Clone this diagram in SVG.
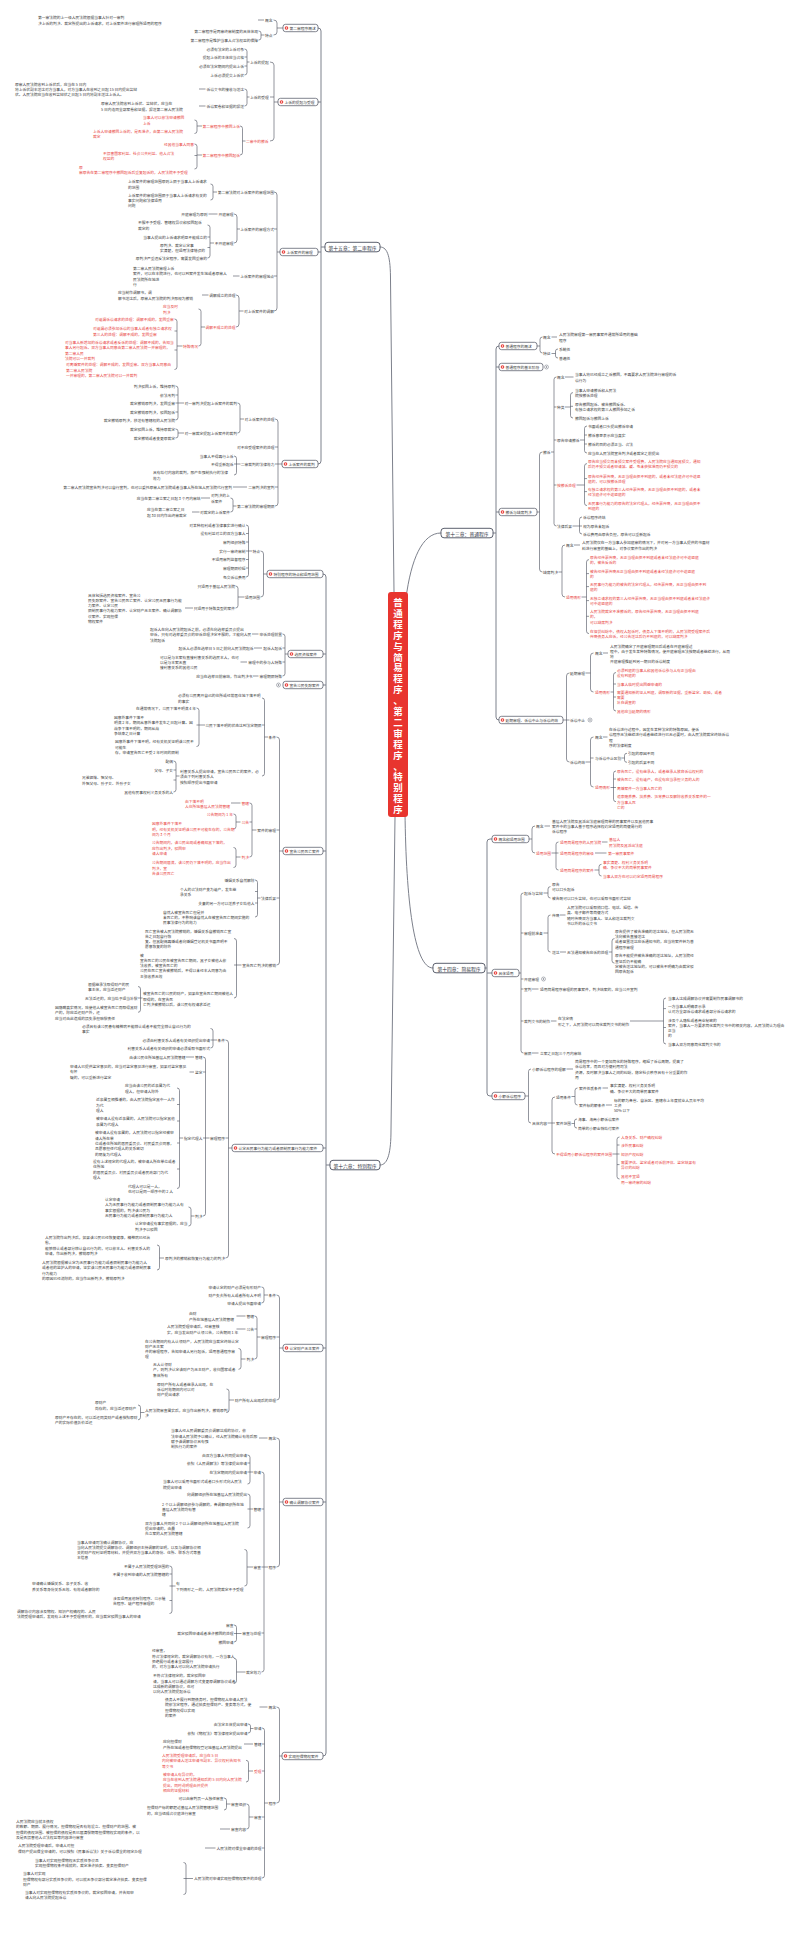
<svg xmlns="http://www.w3.org/2000/svg" width="800" height="1954" viewBox="0 0 800 1954">
<style>
text{font-family:"Noto Sans CJK SC","Noto Sans CJK JP",sans-serif;font-size:3.75px;fill:#3b3b3b;dominant-baseline:central}
.e{text-anchor:end}
.r{fill:#e8413c}
.ch{font-size:4.8px;fill:#2f3340;text-anchor:middle}
.tt{font-size:9.5px;fill:#fff;text-anchor:middle;font-weight:bold}
.c{fill:none;stroke:#4a4f5d;stroke-width:0.6}
.tr{fill:none;stroke:#7d818c;stroke-width:1}
.bx{fill:#fff;stroke:#4a4f5d;stroke-width:0.7}
.cb{fill:#fff;stroke:#4a4f5d;stroke-width:0.9}
.ic{fill:#e8413c}
.iw{fill:#fff}
.col{fill:#fff;stroke:#6b6f7a;stroke-width:0.5}
.cd{fill:#6b6f7a}
</style>
<rect width="800" height="1954" fill="#fff"/>
<g id="connectors">
<path class="tr" d="M380,247 C388,247 390.5,258 390.5,280 L394,592"/>
<path class="tr" d="M380,1165 C388,1165 391,1152 391,1130 L395,817"/>
<path class="tr" d="M406,598 C411,560 422,533 441,533"/>
<path class="tr" d="M405,812 C406,900 414,968 433,968"/>
<path class="tr" d="M318,28 Q321,28 321,31 V461 Q321,464 318,464 M318,102 H321 M318,252 H321 M321,247 H325"/>
<path class="tr" d="M323,574 Q326,574 326,577 V1753 Q326,1756 323,1756 M323,654 H326 M323,685 H326 M323,851 H326 M323,1148 H326 M323,1348 H326 M323,1502 H326 M326,1165 H330"/>
<path class="tr" d="M499,346 Q496,346 496,349 V717 Q496,720 499,720 M496,367 H499 M496,512 H499 M493,533 H496"/>
<path class="tr" d="M492,839 H490 Q487,839 487,842 V1093 Q487,1096 490,1096 H492 M487,973 H492 M485,968 H487"/>
<path class="c" d="M273.5,20 Q277,20 277,23 V32 Q277,35 273.5,35 M277,28 H283 M258,20 H264 M258.5,31 Q261,31 261,33 V38 Q261,40 258.5,40 M261,35 H264.5"/>
<path class="c" d="M270,62 Q274,62 274,65 V138 Q274,141 270,141 M270,97 H274 M274,102 H278"/>
<path class="c" d="M244.5,49 Q247,49 247,51.5 V72.5 Q247,75 244.5,75 M244.5,57 H247 M244.5,66 H247 M247,62 H249.5"/>
<path class="c" d="M244.5,89 Q247,89 247,91.5 V103.5 Q247,106 244.5,106 M247,97 H249.5 M199,89 H205.5 M199,106 H205.5"/>
<path class="c" d="M240,126 Q242.5,126 242.5,128.5 V152.5 Q242.5,155 240,155 M242.5,141 H245.5"/>
<path class="c" d="M194.5,120 Q197,120 197,122.5 V131 Q197,133.5 194.5,133.5 M197,126 H202 M194.5,144 Q197,144 197,146.5 V166.5 Q197,169 194.5,169 M194.5,155.5 H197 M197,155 H202"/>
<path class="c" d="M274,192 Q277,192 277,195 V308 Q277,311 274,311 M274,229 H277 M274,276 H277 M277,252 H280"/>
<path class="c" d="M210.5,184 Q213,184 213,186.5 V197.5 Q213,200 210.5,200 M213,192 H217"/>
<path class="c" d="M234,214 Q237,214 237,217 V240 Q237,243 234,243 M237,229 H240 M208.5,214 H217.5"/>
<path class="c" d="M207.5,225 Q210,225 210,227.5 V255.5 Q210,258 207.5,258 M207.5,237 H210 M207.5,247.5 H210 M210,243 H214"/>
<path class="c" d="M233,276 H239.5 M236,295 Q239,295 239,298 V324 Q239,327 236,327 M239,311 H243.5 M202,295 H208.5"/>
<path class="c" d="M198.5,309 Q201,309 201,311.5 V343.5 Q201,346 198.5,346 M201,327 H205"/>
<path class="c" d="M174.5,319 Q177,319 177,321.5 V367 Q177,369.5 174.5,369.5 M174.5,331 H177 M174.5,350 H177 M177,346 H182.5"/>
<path class="c" d="M275,419 Q278,419 278,422 V503 Q278,506 275,506 M275,447 H278 M275,464 H282 M275,487 H278"/>
<path class="c" d="M237.5,403 Q240,403 240,405.5 V430.5 Q240,433 237.5,433 M240,419 H244"/>
<path class="c" d="M175.5,386 Q178,386 178,388.5 V417.5 Q178,420 175.5,420 M175.5,395 H178 M175.5,403 H178 M175.5,412 H178 M178,403 H184"/>
<path class="c" d="M175.5,429 Q178,429 178,431 V436 Q178,438 175.5,438 M178,433 H184"/>
<path class="c" d="M234,456 Q236.5,456 236.5,458.5 V472.5 Q236.5,475 234,475 M234,464 H240.5 M233,487 H247"/>
<path class="c" d="M230.5,498 Q233,498 233,500.5 V509.5 Q233,512 230.5,512 M233,506 H236.5 M201,498 H210 M192,512 H199.5"/>
<path class="c" d="M260.5,551 Q263.5,551 263.5,554 V594 Q263.5,597 260.5,597 M263.5,574 H267"/>
<path class="c" d="M246,525 Q248.5,525 248.5,527.5 V574.5 Q248.5,577 246,577 M246,533.5 H248.5 M246,542 H248.5 M246,551 H252 M246,559.5 H248.5 M246,568 H248.5"/>
<path class="c" d="M235.5,586 Q238,586 238,588.5 V605.5 Q238,608 235.5,608 M238,597 H244.5 M185,608 H193"/>
<path class="c" d="M282.5,634 Q285,634 285,636.5 V673.5 Q285,676 282.5,676 M282.5,648 H285 M282.5,662 H285 M285,654 H288 M252,634 H258.5 M254,648 H262 M240.5,662 H247 M253,676 H258.5"/>
<path class="c" d="M276.5,737 Q279.5,737 279.5,740 V962 Q279.5,965 276.5,965 M276.5,830 H279.5 M276.5,898 H279.5 M279.5,851 H283"/>
<path class="c" d="M262,698 Q264.5,698 264.5,700.5 V773.5 Q264.5,776 262,776 M262,725 H264.5 M264.5,737 H268"/>
<path class="c" d="M196.5,708 Q199,708 199,710.5 V744 Q199,746.5 196.5,746.5 M196.5,725 H205"/>
<path class="c" d="M173.5,761 Q176,761 176,763.5 V789.5 Q176,792 173.5,792 M173.5,770 H176 M173.5,780 H176 M176,776 H179.5"/>
<path class="c" d="M249.5,803 Q252,803 252,805.5 V854.5 Q252,857 249.5,857 M249.5,822 H252 M252,830 H256.5 M231,803 H240.5"/>
<path class="c" d="M233.5,814 Q236,814 236,816.5 V826.5 Q236,829 233.5,829 M236,822 H240.5 M233.5,847.5 Q236,847.5 236,850 V865 Q236,867.5 233.5,867.5 M236,857 H240.5"/>
<path class="c" d="M255,880 Q257.5,880 257.5,882.5 V914.5 Q257.5,917 255,917 M255,891.5 H257.5 M255,903 H257.5 M257.5,898 H260.5"/>
<path class="c" d="M234,938.5 Q236.5,938.5 236.5,941 V995.5 Q236.5,998 234,998 M234,965 H241.5"/>
<path class="c" d="M138,986.5 Q140.5,986.5 140.5,989 V1009.8 Q140.5,1012.3 138,1012.3 M138,998 H142.5"/>
<path class="c" d="M225.5,1040 Q228.5,1040 228.5,1043 V1255 Q228.5,1258 225.5,1258 M225.5,1138 H228.5 M228.5,1148 H232"/>
<path class="c" d="M210.5,1028.5 Q213,1028.5 213,1031 V1045.5 Q213,1048 210.5,1048 M210.5,1040 H217"/>
<path class="c" d="M203,1057 Q205.5,1057 205.5,1059.5 V1213.5 Q205.5,1216 203,1216 M203,1072 H205.5 M203,1138 H209.5 M186,1057 H194 M189.5,1072 H194"/>
<path class="c" d="M177,1088 Q179.5,1088 179.5,1090.5 V1186 Q179.5,1188.5 177,1188.5 M177,1104.5 H179.5 M177,1121 H179.5 M177,1143 H179.5 M177,1169 H179.5 M179.5,1138 H183"/>
<path class="c" d="M188.5,1207 Q191,1207 191,1209.5 V1223.5 Q191,1226 188.5,1226 M191,1216 H194.5"/>
<path class="c" d="M157,1245 Q159.5,1245 159.5,1247.5 V1267.5 Q159.5,1270 157,1270 M159.5,1258 H164"/>
<path class="c" d="M276.5,1295 Q279.5,1295 279.5,1298 V1397 Q279.5,1400 276.5,1400 M276.5,1337 H279.5 M279.5,1348 H283"/>
<path class="c" d="M261.5,1287 Q264,1287 264,1289.5 V1300.5 Q264,1303 261.5,1303 M264,1295 H268"/>
<path class="c" d="M254.5,1316 Q257,1316 257,1318.5 V1356.5 Q257,1359 254.5,1359 M254.5,1329 H257 M257,1337 H260.5 M236.5,1316 H245.5 M236.5,1329 H245.5"/>
<path class="c" d="M238.5,1348.5 Q241,1348.5 241,1351 V1366.8 Q241,1369.3 238.5,1369.3 M241,1359 H245.5"/>
<path class="c" d="M226.5,1389 Q229,1389 229,1391.5 V1410 Q229,1412.5 226.5,1412.5 M229,1400 H234"/>
<path class="c" d="M138,1405 Q140.5,1405 140.5,1407.5 V1417.3 Q140.5,1419.8 138,1419.8 M140.5,1412.5 H144.5"/>
<path class="c" d="M276.5,1438 Q279.5,1438 279.5,1441 V1564 Q279.5,1567 276.5,1567 M279.5,1502 H283 M259,1438 H267.5"/>
<path class="c" d="M261.5,1472 Q264,1472 264,1474.5 V1669.5 Q264,1672 261.5,1672 M261.5,1509 H264 M261.5,1567 H268 M261.5,1633 H264"/>
<path class="c" d="M247.5,1455 Q250,1455 250,1457.5 V1481.5 Q250,1484 247.5,1484 M247.5,1463 H250 M247.5,1472 H253"/>
<path class="c" d="M247.5,1494 Q250,1494 250,1496.5 V1525.5 Q250,1528 247.5,1528 M247.5,1509 H253"/>
<path class="c" d="M244.5,1549.5 Q247,1549.5 247,1552 V1583.5 Q247,1586 244.5,1586 M247,1567 H253"/>
<path class="c" d="M169.5,1566 Q172,1566 172,1568.5 V1611 Q172,1613.5 169.5,1613.5 M169.5,1574 H172 M169.5,1586 H175.5 M169.5,1600.5 H172"/>
<path class="c" d="M234,1625 Q236.5,1625 236.5,1627.5 V1639.5 Q236.5,1642 234,1642 M234,1633.5 H241.5"/>
<path class="c" d="M234,1658.3 Q236.5,1658.3 236.5,1660.8 V1680.8 Q236.5,1683.3 234,1683.3 M236.5,1672 H245.5"/>
<path class="c" d="M276.5,1707 Q279.5,1707 279.5,1710 V1800 Q279.5,1803 276.5,1803 M279.5,1756 H282 M259.5,1707 H267.5"/>
<path class="c" d="M262,1728 Q264.5,1728 264.5,1730.5 V1875.5 Q264.5,1878 262,1878 M262,1744 H264.5 M262,1771 H264.5 M262,1817 H264.5 M262,1848 H264.5 M264.5,1803 H268"/>
<path class="c" d="M248,1724 Q250.5,1724 250.5,1726 V1731 Q250.5,1733 248,1733 M250.5,1728.5 H253.5 M244,1744 H253"/>
<path class="c" d="M246,1760.3 Q248.5,1760.3 248.5,1762.8 V1779.5 Q248.5,1782 246,1782 M248.5,1771 H253"/>
<path class="c" d="M246.5,1804 Q249,1804 249,1806.5 V1826.5 Q249,1829 246.5,1829 M249,1817 H253.5"/>
<path class="c" d="M224,1798 Q226.5,1798 226.5,1800.5 V1807.5 Q226.5,1810 224,1810 M226.5,1804 H230.5 M220,1829 H230 M205,1848 H215.5"/>
<path class="c" d="M183.5,1862.5 Q186,1862.5 186,1865 V1892 Q186,1894.5 183.5,1894.5 M183.5,1878.5 H193"/>
<path class="c" d="M542.5,337 Q540,337 540,339.5 V350.5 Q540,353 542.5,353 M537,346 H540 M551.5,337 H557"/>
<path class="c" d="M558,349 Q555.5,349 555.5,351 V356 Q555.5,358 558,358 M551.5,353.5 H555.5"/>
<path class="c" d="M542.5,452 Q539.5,452 539.5,455 V569 Q539.5,572 542.5,572 M537,512 H539.5"/>
<path class="c" d="M556.5,377 Q554,377 554,379.5 V523.5 Q554,526 556.5,526 M554,407 H556.5 M554,440 H556.5 M554,485 H556.5 M551,452 H554 M565,377 H573.5"/>
<path class="c" d="M573,392.6 Q570.5,392.6 570.5,395.1 V415.5 Q570.5,418 573,418 M570.5,406.3 H573 M565,407 H570.5"/>
<path class="c" d="M587,426 Q584.5,426 584.5,428.5 V450.5 Q584.5,453 587,453 M584.5,435 H587 M584.5,444 H587 M580,440 H584.5"/>
<path class="c" d="M587,463.6 Q584.5,463.6 584.5,466.1 V503.1 Q584.5,505.6 587,505.6 M584.5,478.6 H587 M584.5,491.6 H587 M576.5,485 H584.5"/>
<path class="c" d="M582,517 Q579.5,517 579.5,519.5 V531.5 Q579.5,534 582,534 M572.5,526 H582"/>
<path class="c" d="M565,545 Q562,545 562,548 V594 Q562,597 565,597 M558.5,572 H562 M574,545 H580"/>
<path class="c" d="M589,559.6 Q586.5,559.6 586.5,562.1 V631.1 Q586.5,633.6 589,633.6 M586.5,573.6 H589 M586.5,586.6 H589 M586.5,600.6 H589 M586.5,616.3 H589 M581.5,597 H586.5"/>
<path class="c" d="M569.5,673 Q566.5,673 566.5,676 V759 Q566.5,762 569.5,762 M563,720 H569.5"/>
<path class="c" d="M593.5,653 Q590.5,653 590.5,656 V689 Q590.5,692 593.5,692 M585.5,673 H590.5 M603,653 H608"/>
<path class="c" d="M616,672.5 Q613.5,672.5 613.5,675 V708.5 Q613.5,711 616,711 M613.5,684 H616 M613.5,697 H616 M610.5,692 H613.5"/>
<path class="c" d="M593.5,737 Q590.5,737 590.5,740 V784 Q590.5,787 593.5,787 M590.5,758 H593.5 M585.5,762 H590.5 M603,737 H607.5"/>
<path class="c" d="M627,753.3 Q624.5,753.3 624.5,755.3 V760.3 Q624.5,762.3 627,762.3 M621.5,758 H624.5"/>
<path class="c" d="M616,771 Q613.5,771 613.5,773.5 V799.2 Q613.5,801.7 616,801.7 M613.5,779 H616 M610.5,787.5 H616"/>
<path class="c" d="M535,826 Q532,826 532,829 V850 Q532,853 535,853 M529,839 H532 M544.5,826 H550"/>
<path class="c" d="M558.5,842 Q556,842 556,844.5 V867.5 Q556,870 558.5,870 M551.5,853 H558.5 M602,842 H607.5 M595,853 H606.5"/>
<path class="c" d="M601.5,864.3 Q599,864.3 599,866.8 V873.5 Q599,876 601.5,876 M594.5,870 H599"/>
<path class="c" d="M523.5,893 Q521,893 521,895.5 V1050.5 Q521,1053 523.5,1053 M521,933 H523.5 M521,979 H523.5 M521,989 H523.5 M521,1021 H523.5 M519,973 H521"/>
<path class="c" d="M550.5,886.6 Q548,886.6 548,889.1 V895.5 Q548,898 550.5,898 M543.5,893 H548"/>
<path class="c" d="M550.5,915 Q548,915 548,917.5 V949.5 Q548,952 550.5,952 M543.5,933 H548 M560,915 H565.5 M560,952 H566"/>
<path class="c" d="M614.5,938.6 Q612,938.6 612,941.1 V960.6 Q612,963.1 614.5,963.1 M609,952 H612"/>
<path class="c" d="M532,989 H538.5 M551,1021 H556.5 M630,1021 H663.5 M532,1053 H538.5"/>
<path class="c" d="M666,998 Q663.5,998 663.5,1000.5 V1041.5 Q663.5,1044 666,1044 M663.5,1008.6 H666 M663.5,1027.5 H666"/>
<path class="c" d="M531,1069 Q528.5,1069 528.5,1071.5 V1120.5 Q528.5,1123 531,1123 M525,1096 H528.5 M566.5,1069 H573"/>
<path class="c" d="M555,1097 Q552,1097 552,1100 V1151 Q552,1154 555,1154 M547.5,1123 H555"/>
<path class="c" d="M577.5,1088 Q575,1088 575,1090.5 V1102.5 Q575,1105 577.5,1105 M571.5,1096.5 H575 M602.5,1088 H608 M606,1105 H612"/>
<path class="c" d="M577,1119 Q574.5,1119 574.5,1121 V1126 Q574.5,1128 577,1128 M571.5,1123.5 H574.5"/>
<path class="c" d="M619.5,1137 Q617,1137 617,1139.5 V1176.5 Q617,1179 619.5,1179 M617,1145 H619.5 M617,1164.6 H619.5 M612.5,1154 H619.5"/>
</g>
<g id="root"><rect x="388" y="592" width="20" height="225" rx="3" fill="#e8352f"/><text class="tt"><tspan x="398" y="602">普</tspan><tspan x="398" y="612.9">通</tspan><tspan x="398" y="623.8">程</tspan><tspan x="398" y="634.7">序</tspan><tspan x="398" y="645.6">与</tspan><tspan x="398" y="656.5">简</tspan><tspan x="398" y="667.4">易</tspan><tspan x="398" y="678.3">程</tspan><tspan x="398" y="689.2">序</tspan><tspan x="398" y="700.1">、</tspan><tspan x="398" y="711">第</tspan><tspan x="398" y="721.9">二</tspan><tspan x="398" y="732.8">审</tspan><tspan x="398" y="743.7">程</tspan><tspan x="398" y="754.6">序</tspan><tspan x="398" y="765.5">、</tspan><tspan x="398" y="776.4">特</tspan><tspan x="398" y="787.3">别</tspan><tspan x="398" y="798.2">程</tspan><tspan x="398" y="809.1">序</tspan></text></g>
<g id="ch15"><rect class="cb" x="325" y="242.3" width="55" height="9.5" rx="3"/><text class="ch" x="352.5" y="247">第十五章：第二审程序</text></g>
<g id="ch16"><rect class="cb" x="330" y="1160.3" width="50" height="9.5" rx="3"/><text class="ch" x="355" y="1165">第十六章：特别程序</text></g>
<g id="ch13"><rect class="cb" x="441" y="528.3" width="52" height="9.5" rx="3"/><text class="ch" x="467" y="533">第十三章：普通程序</text></g>
<g id="ch14"><rect class="cb" x="433" y="963.3" width="52" height="9.5" rx="3"/><text class="ch" x="459" y="968">第十四章：简易程序</text></g>

<g id="A1"><rect class="bx" x="283" y="24.3" width="35" height="7.4" rx="2.5"/><circle class="ic" cx="286.5" cy="28" r="1.8"/><circle class="iw" cx="286.5" cy="28" r="0.7"/><text x="289.5" y="28">第二审程序概述</text></g>
<g id="A2"><rect class="bx" x="278" y="98.3" width="40" height="7.4" rx="2.5"/><circle class="ic" cx="281.5" cy="102" r="1.8"/><circle class="iw" cx="281.5" cy="102" r="0.7"/><text x="284.5" y="102">上诉的提起与受理</text></g>
<g id="A3"><rect class="bx" x="280" y="248.3" width="38" height="7.4" rx="2.5"/><circle class="ic" cx="283.5" cy="252" r="1.8"/><circle class="iw" cx="283.5" cy="252" r="0.7"/><text x="286.5" y="252">上诉案件的审理</text></g>
<g id="A4"><rect class="bx" x="282" y="460.3" width="36" height="7.4" rx="2.5"/><circle class="ic" cx="285.5" cy="464" r="1.8"/><circle class="iw" cx="285.5" cy="464" r="0.7"/><text x="288.5" y="464">上诉案件的裁判</text></g>
<g id="B1"><rect class="bx" x="267" y="570.3" width="56" height="7.4" rx="2.5"/><circle class="ic" cx="270.5" cy="574" r="1.8"/><circle class="iw" cx="270.5" cy="574" r="0.7"/><text x="273.5" y="574">特别程序的特点和适用范围</text></g>
<g id="B2"><rect class="bx" x="288" y="650.3" width="35" height="7.4" rx="2.5"/><circle class="ic" cx="291.5" cy="654" r="1.8"/><circle class="iw" cx="291.5" cy="654" r="0.7"/><text x="294.5" y="654">选民资格案件</text></g>
<g id="B3"><rect class="bx" x="283" y="681.3" width="40" height="7.4" rx="2.5"/><circle class="ic" cx="286.5" cy="685" r="1.8"/><circle class="iw" cx="286.5" cy="685" r="0.7"/><text x="289.5" y="685">宣告公民失踪案件</text><circle class="col" cx="278.5" cy="685" r="2"/><circle class="cd" cx="278.5" cy="685" r="0.7"/></g>
<g id="B4"><rect class="bx" x="283" y="847.3" width="40" height="7.4" rx="2.5"/><circle class="ic" cx="286.5" cy="851" r="1.8"/><circle class="iw" cx="286.5" cy="851" r="0.7"/><text x="289.5" y="851">宣告公民死亡案件</text></g>
<g id="B5"><rect class="bx" x="232" y="1144.3" width="91" height="7.4" rx="2.5"/><circle class="ic" cx="235.5" cy="1148" r="1.8"/><circle class="iw" cx="235.5" cy="1148" r="0.7"/><text x="238.5" y="1148">认定无民事行为能力或者限制民事行为能力案件</text></g>
<g id="B6"><rect class="bx" x="283" y="1344.3" width="40" height="7.4" rx="2.5"/><circle class="ic" cx="286.5" cy="1348" r="1.8"/><circle class="iw" cx="286.5" cy="1348" r="0.7"/><text x="289.5" y="1348">认定财产无主案件</text></g>
<g id="B7"><rect class="bx" x="283" y="1498.3" width="40" height="7.4" rx="2.5"/><circle class="ic" cx="286.5" cy="1502" r="1.8"/><circle class="iw" cx="286.5" cy="1502" r="0.7"/><text x="289.5" y="1502">确认调解协议案件</text></g>
<g id="B8"><rect class="bx" x="282" y="1752.3" width="41" height="7.4" rx="2.5"/><circle class="ic" cx="285.5" cy="1756" r="1.8"/><circle class="iw" cx="285.5" cy="1756" r="0.7"/><text x="288.5" y="1756">实现担保物权案件</text></g>
<g id="C1"><rect class="bx" x="499" y="342.3" width="38" height="7.4" rx="2.5"/><circle class="ic" cx="502.5" cy="346" r="1.8"/><circle class="iw" cx="502.5" cy="346" r="0.7"/><text x="505.5" y="346">普通程序的概述</text></g>
<g id="C2"><rect class="bx" x="499" y="363.3" width="44" height="7.4" rx="2.5"/><circle class="ic" cx="502.5" cy="367" r="1.8"/><circle class="iw" cx="502.5" cy="367" r="0.7"/><text x="505.5" y="367">普通程序的基本阶段</text><circle class="col" cx="546.5" cy="367" r="2"/><circle class="cd" cx="546.5" cy="367" r="0.7"/></g>
<g id="C3"><rect class="bx" x="499" y="508.3" width="38" height="7.4" rx="2.5"/><circle class="ic" cx="502.5" cy="512" r="1.8"/><circle class="iw" cx="502.5" cy="512" r="0.7"/><text x="505.5" y="512">撤诉与缺席判决</text></g>
<g id="C4"><rect class="bx" x="499" y="716.3" width="64" height="7.4" rx="2.5"/><circle class="ic" cx="502.5" cy="720" r="1.8"/><circle class="iw" cx="502.5" cy="720" r="0.7"/><text x="505.5" y="720">延期审理、诉讼中止与诉讼终结</text></g>
<g id="D1"><rect class="bx" x="492" y="835.3" width="37" height="7.4" rx="2.5"/><circle class="ic" cx="495.5" cy="839" r="1.8"/><circle class="iw" cx="495.5" cy="839" r="0.7"/><text x="498.5" y="839">概念和适用范围</text></g>
<g id="D2"><rect class="bx" x="492" y="969.3" width="27" height="7.4" rx="2.5"/><circle class="ic" cx="495.5" cy="973" r="1.8"/><circle class="iw" cx="495.5" cy="973" r="0.7"/><text x="498.5" y="973">具体适用</text></g>
<g id="D3"><rect class="bx" x="492" y="1092.3" width="33" height="7.4" rx="2.5"/><circle class="ic" cx="495.5" cy="1096" r="1.8"/><circle class="iw" cx="495.5" cy="1096" r="0.7"/><text x="498.5" y="1096">小额诉讼程序</text></g>

<g id="a1"><text x="265" y="20">概念</text></g>
<g id="a2"><text><tspan x="38" y="17">第一审法院的上一级人民法院根据当事人针对一审判</tspan><tspan x="38" y="23">决上诉的判决、裁定所提出的上诉请求，对上诉案件进行审理所适用的程序</tspan></text></g>
<g id="a3"><text x="265" y="35">特点</text></g>
<g id="a4"><text class="e" x="258" y="31">第二审程序是两审终审制度的具体体现</text></g>
<g id="a5"><text class="e" x="258" y="40">第二审程序是维护当事人合法权益的保障</text></g>
<g id="a6"><text x="250" y="62">上诉的提起</text></g>
<g id="a7"><text class="e" x="244" y="49">必须有法定的上诉对象</text></g>
<g id="a8"><text class="e" x="244" y="57">提起上诉的主体应当合格</text></g>
<g id="a9"><text class="e" x="244" y="66">必须在法定期间内提出上诉</text></g>
<g id="a10"><text class="e" x="244" y="75">上诉必须提交上诉状</text></g>
<g id="a11"><text x="250" y="97">上诉的受理</text></g>
<g id="a12"><text class="e" x="244" y="89">诉讼文书的接收与送达</text></g>
<g id="a13"><text class="e" x="244" y="106">诉讼案卷和证据的报送</text></g>
<g id="a14"><text><tspan x="15" y="83.7">原审人民法院收到上诉状后，应当在 5 日内</tspan><tspan x="15" y="89">将上诉状副本送达对方当事人，对方当事人在收到之日起 15 日内提出答辩</tspan><tspan x="15" y="94.3">状。人民法院应当在收到答辩状之日起 5 日内将副本送达上诉人。</tspan></text></g>
<g id="a15"><text><tspan x="101" y="103.3">原审人民法院收到上诉状、答辩状，应当在</tspan><tspan x="101" y="108.6">5 日内连同全部案卷和证据，报送第二审人民法院</tspan></text></g>
<g id="a16"><text class="r" x="246" y="141">二审中的撤诉</text></g>
<g id="a17"><text class="e r" x="240" y="126">第二审程序中撤回上诉</text></g>
<g id="a18"><text class="e r" x="240" y="155">第二审程序中撤回起诉</text></g>
<g id="a19"><text class="r"><tspan x="143" y="117.4">当事人可以依法申请撤回</tspan><tspan x="143" y="122.7">上诉</tspan></text></g>
<g id="a20"><text class="r"><tspan x="93" y="131">上诉人申请撤回上诉的，是否准许，由第二审人民法院</tspan><tspan x="93" y="136.3">裁定</tspan></text></g>
<g id="a21"><text class="e r" x="194" y="144">经其他当事人同意</text></g>
<g id="a22"><text class="r"><tspan x="103" y="153">不损害国家利益、社会公共利益、他人合法</tspan><tspan x="103" y="158.3">权益的</tspan></text></g>
<g id="a23"><text class="r"><tspan x="79" y="166.5">原</tspan><tspan x="79" y="171.8">审原告在第二审程序中撤回起诉后重复起诉的，人民法院不予受理</tspan></text></g>
<g id="a24"><text class="e" x="274" y="192">第二审法院对上诉案件的审理范围</text></g>
<g id="a25"><text class="e" x="274" y="229">上诉案件的审理方式</text></g>
<g id="a26"><text class="e" x="274" y="276">上诉案件的审理地点</text></g>
<g id="a27"><text class="e" x="274" y="311">对上诉案件的调解</text></g>
<g id="a28"><text><tspan x="128" y="181.3">上诉案件的审理范围原则上限于当事人上诉请求</tspan><tspan x="128" y="186.6">的范围</tspan></text></g>
<g id="a29"><text><tspan x="128" y="194.6">上诉案件的审理范围限于当事人上诉请求有关的</tspan><tspan x="128" y="199.9">事实问题和法律适用</tspan><tspan x="128" y="205.2">问题</tspan></text></g>
<g id="a30"><text class="e" x="233.5" y="214">开庭审理</text></g>
<g id="a31"><text class="e" x="207.5" y="214">开庭审理为原则</text></g>
<g id="a32"><text class="e" x="233.5" y="243">不开庭审理</text></g>
<g id="a33"><text><tspan x="138" y="222.3">不服不予受理、管辖权异议和驳回起诉</tspan><tspan x="138" y="227.6">裁定的</tspan></text></g>
<g id="a34"><text class="e" x="207" y="237">当事人提出的上诉请求明显不能成立的</text></g>
<g id="a35"><text><tspan x="160" y="245">原判决、裁定认定事</tspan><tspan x="160" y="250.3">实清楚，但适用法律错误的</tspan></text></g>
<g id="a36"><text class="e" x="207" y="258">原判决严重违反法定程序，需要发回重审的</text></g>
<g id="a37"><text><tspan x="133" y="268">第二审人民法院审理上诉</tspan><tspan x="133" y="273.3">案件，可以在本院进行，也可以到案件发生地或者原审人</tspan><tspan x="133" y="278.6">民法院所在地进</tspan><tspan x="133" y="283.9">行</tspan></text></g>
<g id="a38"><text class="e" x="235.5" y="295">调解成立的处理</text></g>
<g id="a39"><text><tspan x="118" y="292.3">应当制作调解书，调</tspan><tspan x="118" y="297.6">解书送达后，原审人民法院的判决即视为撤销</tspan></text></g>
<g id="a40"><text class="e r" x="235.5" y="327">调解不成立的处理</text></g>
<g id="a41"><text class="r"><tspan x="163" y="306.3">应当及时</tspan><tspan x="163" y="311.6">判决</tspan></text></g>
<g id="a42"><text class="e r" x="198" y="346">特殊情况</text></g>
<g id="a43"><text class="r" x="95" y="319">对遗漏诉讼请求的处理：调解不成的，发回重审</text></g>
<g id="a44"><text class="r"><tspan x="93" y="328.3">对遗漏必须参加诉讼的当事人或者有独立请求权</tspan><tspan x="93" y="333.6">第三人的处理：调解不成的，发回重审</tspan></text></g>
<g id="a45"><text class="r"><tspan x="65" y="342">对当事人新增加的诉讼请求或者反诉的处理：调解不成的，告知当</tspan><tspan x="65" y="347.3">事人另行起诉。双方当事人同意由第二审人民法院一并审理的，</tspan><tspan x="65" y="352.6">第二审人民</tspan><tspan x="65" y="357.9">法院可以一并裁判</tspan></text></g>
<g id="a46"><text class="r"><tspan x="66" y="364.2">对离婚案件的处理：调解不成的，发回重审。双方当事人同意由</tspan><tspan x="66" y="369.5">第二审人民法院</tspan><tspan x="66" y="374.8">一并审理的，第二审人民法院可以一并裁判</tspan></text></g>
<g id="a47"><text class="e" x="274.5" y="419">对上诉案件的处理</text></g>
<g id="a48"><text class="e" x="274.5" y="447">对不应受理案件的处理</text></g>
<g id="a49"><text class="e" x="274.5" y="464">二审裁判的法律效力</text></g>
<g id="a50"><text class="e" x="274.5" y="487">二审判决的宣判</text></g>
<g id="a51"><text class="e" x="274.5" y="506">第二审法院的审理期限</text></g>
<g id="a52"><text class="e" x="237" y="403">对一审判决提起上诉案件的裁判</text></g>
<g id="a53"><text class="e" x="237" y="433">对一审裁定提起上诉案件的裁判</text></g>
<g id="a54"><text class="e" x="175" y="386">判决驳回上诉，维持原判</text></g>
<g id="a55"><text class="e" x="175" y="395">依法改判</text></g>
<g id="a56"><text class="e" x="175" y="403">裁定撤销原判决，发回重审</text></g>
<g id="a57"><text class="e" x="175" y="412">裁定撤销原判决，驳回起诉</text></g>
<g id="a58"><text class="e" x="175" y="420">裁定撤销原判决，移送有管辖权的人民法院</text></g>
<g id="a59"><text class="e" x="175" y="429">裁定驳回上诉，维持原裁定</text></g>
<g id="a60"><text class="e" x="175" y="438">裁定撤销或者变更原裁定</text></g>
<g id="a61"><text class="e" x="233.5" y="456">当事人不得再行上诉</text></g>
<g id="a62"><text class="e" x="233.5" y="464">不得重新起诉</text></g>
<g id="a63"><text><tspan x="153" y="472.3">具有给付内容的裁判，即产生强制执行的法律</tspan><tspan x="153" y="477.6">效力</tspan></text></g>
<g id="a64"><text class="e" x="232" y="487">第二审人民法院宣告判决可以自行宣判，也可以委托原审人民法院或者当事人所在地人民法院代行宣判</text></g>
<g id="a65"><text><tspan x="211" y="495.3">对判决的上</tspan><tspan x="211" y="500.6">诉案件</tspan></text></g>
<g id="a66"><text class="e" x="230" y="512">对裁定的上诉案件</text></g>
<g id="a67"><text class="e" x="200.5" y="498">应当在第二审立案之日起 3 个月内审结</text></g>
<g id="a68"><text><tspan x="147" y="509.3">应当在第二审立案之日</tspan><tspan x="147" y="514.6">起 30 日内作出终审裁定</tspan></text></g>

<g id="b1"><text class="e" x="260" y="551">特点</text></g>
<g id="b2"><text class="e" x="260" y="597">适用范围</text></g>
<g id="b3"><text class="e" x="245.5" y="525">对某种权利或者法律事实进行确认</text></g>
<g id="b4"><text class="e" x="245.5" y="533.5">没有利益对立的双方当事人</text></g>
<g id="b5"><text class="e" x="245.5" y="542">审判组织特殊</text></g>
<g id="b6"><text class="e" x="245.5" y="551">实行一审终审制</text></g>
<g id="b7"><text class="e" x="245.5" y="559.5">不适用审判监督程序</text></g>
<g id="b8"><text class="e" x="245.5" y="568">审理期限较短</text></g>
<g id="b9"><text class="e" x="245.5" y="577">免交诉讼费用</text></g>
<g id="b10"><text class="e" x="235" y="586">只适用于基层人民法院</text></g>
<g id="b11"><text class="e" x="235" y="608">只适用于特殊类型的案件</text></g>
<g id="b12"><text><tspan x="88" y="594.5">具体包括选民资格案件、宣告公</tspan><tspan x="88" y="599.8">民失踪案件、宣告公民死亡案件、认定公民无民事行为能</tspan><tspan x="88" y="605.1">力案件、认定公民</tspan><tspan x="88" y="610.4">限制民事行为能力案件、认定财产无主案件、确认调解协</tspan><tspan x="88" y="615.7">议案件、实现担保</tspan><tspan x="88" y="621">物权案件</tspan></text></g>
<g id="b13"><text class="e" x="282" y="634">申诉处理前置</text></g>
<g id="b14"><text class="e" x="282" y="648">起诉人起诉</text></g>
<g id="b15"><text class="e" x="282" y="662">审理中的参与人特殊</text></g>
<g id="b16"><text class="e" x="282" y="676">审理期限特殊</text></g>
<g id="b17"><text><tspan x="150" y="629">起诉人在向人民法院起诉之前，必须先向选举委员会提出</tspan><tspan x="150" y="634.3">申诉，只有对选举委员会的申诉处理决定不服的，才能向人民</tspan><tspan x="150" y="639.6">法院起诉</tspan></text></g>
<g id="b18"><text class="e" x="253.5" y="648">起诉人必须在选举日 5 日之前向人民法院起诉</text></g>
<g id="b19"><text><tspan x="160" y="656.7">可以是与本案有直接利害关系的选民本人，也可</tspan><tspan x="160" y="662">以是与本案无直</tspan><tspan x="160" y="667.3">接利害关系的其他公民</tspan></text></g>
<g id="b20"><text class="e" x="252.5" y="676">应当在选举日前审结，作出判决书</text></g>
<g id="b21"><text class="e" x="276" y="737">条件</text></g>
<g id="b22"><text class="e" x="276" y="830">案件的审理</text></g>
<g id="b23"><text class="e" x="276" y="898">法律后果</text></g>
<g id="b24"><text class="e" x="276" y="965">宣告死亡判决的撤销</text></g>
<g id="b25"><text><tspan x="178" y="695.3">必须有公民离开自己的住所或经常居住地下落不明</tspan><tspan x="178" y="700.6">的事实</tspan></text></g>
<g id="b26"><text class="e" x="261.5" y="725">公民下落不明的状态达到法定期限</text></g>
<g id="b27"><text><tspan x="180" y="771">利害关系人提出申请，宣告公民死亡的案件，必</tspan><tspan x="180" y="776.3">须由下列利害关系人</tspan><tspan x="180" y="781.6">按照顺序提出书面申请</tspan></text></g>
<g id="b28"><text class="e" x="196" y="708">在通常情况下，公民下落不明满 4 年</text></g>
<g id="b29"><text><tspan x="114" y="717">因意外事件下落不</tspan><tspan x="114" y="722.3">明满 2 年，期间从意外事件发生之日起计算。因</tspan><tspan x="114" y="727.6">战争下落不明的，期间从战</tspan><tspan x="114" y="732.9">争结束之日计算</tspan></text></g>
<g id="b30"><text><tspan x="115" y="741.2">因意外事件下落不明，经有关机关证明该公民不</tspan><tspan x="115" y="746.5">可能生</tspan><tspan x="115" y="751.8">存，申请宣告死亡不受 2 年时间的限制</tspan></text></g>
<g id="b31"><text class="e" x="173" y="761">配偶</text></g>
<g id="b32"><text class="e" x="173" y="770">父母、子女</text></g>
<g id="b33"><text><tspan x="82" y="777.3">兄弟姐妹、祖父母、</tspan><tspan x="82" y="782.6">外祖父母、孙子女、外孙子女</tspan></text></g>
<g id="b34"><text class="e" x="173" y="792">其他有民事权利义务关系的人</text></g>
<g id="b35"><text class="e r" x="249" y="803">管辖</text></g>
<g id="b36"><text class="e r" x="249" y="822">公告</text></g>
<g id="b37"><text class="e r" x="249" y="857">判决</text></g>
<g id="b38"><text class="r"><tspan x="185" y="800.6">由下落不明</tspan><tspan x="185" y="805.9">人住所地基层人民法院管辖</tspan></text></g>
<g id="b39"><text class="e r" x="233" y="814">公告期间为 1 年</text></g>
<g id="b40"><text class="r"><tspan x="152" y="823.4">因意外事件下落不</tspan><tspan x="152" y="828.7">明，经有关机关证明该公民不可能生存的，公告期</tspan><tspan x="152" y="834">间为 3 个月</tspan></text></g>
<g id="b41"><text class="r"><tspan x="152" y="842.2">公告期间内，该公民出现或者确知其下落的，</tspan><tspan x="152" y="847.5">应作出判决，驳回申</tspan><tspan x="152" y="852.8">请人申请</tspan></text></g>
<g id="b42"><text class="r"><tspan x="152" y="862.2">公告期间届满，该公民仍下落不明的，应当作出</tspan><tspan x="152" y="867.5">判决，宣</tspan><tspan x="152" y="872.8">告该公民死亡</tspan></text></g>
<g id="b43"><text class="e" x="254.5" y="880">婚姻关系自然解除</text></g>
<g id="b44"><text><tspan x="180" y="889">个人的合法财产变为遗产，发生继</tspan><tspan x="180" y="894.3">承关系</tspan></text></g>
<g id="b45"><text class="e" x="254.5" y="903">夫妻的另一方可以送养子女给他人</text></g>
<g id="b46"><text><tspan x="163" y="911.7">自然人被宣告死亡但是并</tspan><tspan x="163" y="917">未死亡的，不影响该自然人在被宣告死亡期间实施的</tspan><tspan x="163" y="922.3">民事法律行为的效力</tspan></text></g>
<g id="b47"><text><tspan x="145" y="930.5">死亡宣告被人民法院撤销的，婚姻关系自撤销死亡宣</tspan><tspan x="145" y="935.8">告之日起自行恢</tspan><tspan x="145" y="941.1">复。但其配偶再婚或者向婚姻登记机关书面声明不</tspan><tspan x="145" y="946.4">愿意恢复的除外</tspan></text></g>
<g id="b48"><text><tspan x="140" y="954.5">被</tspan><tspan x="140" y="959.8">宣告死亡的公民在被宣告死亡期间，其子女被他人依</tspan><tspan x="140" y="965.1">法收养，被宣告死亡的</tspan><tspan x="140" y="970.4">公民在死亡宣告被撤销后，不得以未经本人同意为由</tspan><tspan x="140" y="975.7">主张收养无效</tspan></text></g>
<g id="b49"><text><tspan x="143" y="993.3">被宣告死亡的公民的财产，如果在宣告死亡期间被他人</tspan><tspan x="143" y="998.6">取得的，在宣告死</tspan><tspan x="143" y="1003.9">亡判决被撤销以后，该公民有权请求返还</tspan></text></g>
<g id="b50"><text><tspan x="88" y="983.8">根据继承法取得财产的民</tspan><tspan x="88" y="989.1">事主体，应当返还财产</tspan></text></g>
<g id="b51"><text class="e" x="137.5" y="998">无法返还的，应当给予适当补偿</text></g>
<g id="b52"><text><tspan x="55" y="1007">因隐瞒真实情况，致使他人被宣告死亡而取得其财</tspan><tspan x="55" y="1012.3">产的，除应返还财产外，还</tspan><tspan x="55" y="1017.6">应当对由此造成的损失承担赔偿责任</tspan></text></g>
<g id="b53"><text class="e" x="225" y="1040">条件</text></g>
<g id="b54"><text class="e" x="225" y="1138">审理程序</text></g>
<g id="b55"><text class="e" x="225" y="1258">原判决的撤销和恢复行为能力的判决</text></g>
<g id="b56"><text><tspan x="82" y="1025.8">必须具有该公民患有精神病不能辨认或者不能完全辨认自己行为的</tspan><tspan x="82" y="1031.1">事实</tspan></text></g>
<g id="b57"><text class="e" x="210" y="1040">必须由利害关系人或者有关组织提出申请</text></g>
<g id="b58"><text class="e" x="210" y="1048">利害关系人或者有关组织的申请必须采取书面形式</text></g>
<g id="b59"><text class="e" x="202.5" y="1057">管辖</text></g>
<g id="b60"><text class="e" x="202.5" y="1072">鉴定</text></g>
<g id="b61"><text class="e" x="202.5" y="1138">指定代理人</text></g>
<g id="b62"><text class="e" x="202.5" y="1216">判决</text></g>
<g id="b63"><text class="e" x="185.5" y="1057">由该公民住所地基层人民法院管辖</text></g>
<g id="b64"><text><tspan x="70" y="1066">申请人已提供鉴定意见的，应当对鉴定意见进行审查，如果对鉴定意见</tspan><tspan x="70" y="1071.3">有怀</tspan><tspan x="70" y="1076.6">疑的，可以重新进行鉴定</tspan></text></g>
<g id="b65"><text><tspan x="125" y="1085.3">应当由该公民的近亲属为代</tspan><tspan x="125" y="1090.6">理人，但申请人除外</tspan></text></g>
<g id="b66"><text><tspan x="96" y="1099.2">近亲属互相推诿的，由人民法院指定其中一人作</tspan><tspan x="96" y="1104.5">为代</tspan><tspan x="96" y="1109.8">理人</tspan></text></g>
<g id="b67"><text><tspan x="96" y="1118.3">被申请人没有近亲属的，人民法院可以指定其他</tspan><tspan x="96" y="1123.6">亲属为代理人</tspan></text></g>
<g id="b68"><text><tspan x="95" y="1132.4">被申请人没有亲属的，人民法院可以指定经被申</tspan><tspan x="95" y="1137.7">请人所在单</tspan><tspan x="95" y="1143">位或者住所地的居民委员会、村民委员会同意，</tspan><tspan x="95" y="1148.3">且愿意担任代理人的关系密切</tspan><tspan x="95" y="1153.6">的朋友为代理人</tspan></text></g>
<g id="b69"><text><tspan x="93" y="1161">没有上述规定的代理人的，被申请人所在单位或者</tspan><tspan x="93" y="1166.3">住所地</tspan><tspan x="93" y="1171.6">的居民委员会、村民委员会或者民政部门为代</tspan><tspan x="93" y="1176.9">理人</tspan></text></g>
<g id="b70"><text><tspan x="128" y="1185.8">代理人可以是一人，</tspan><tspan x="128" y="1191.1">也可以是同一顺序中的 2 人</tspan></text></g>
<g id="b71"><text><tspan x="105" y="1199">认定申请</tspan><tspan x="105" y="1204.3">人为无民事行为能力或者限制民事行为能力人有</tspan><tspan x="105" y="1209.6">事实根据的，判决该公民为</tspan><tspan x="105" y="1214.9">无民事行为能力或者限制民事行为能力人</tspan></text></g>
<g id="b72"><text><tspan x="135" y="1223.4">认定申请没有事实根据的，应当</tspan><tspan x="135" y="1228.7">判决予以驳回</tspan></text></g>
<g id="b73"><text><tspan x="45" y="1237">人民法院作出判决后，如果该公民已经恢复健康，精神病已经治</tspan><tspan x="45" y="1242.3">愈，</tspan><tspan x="45" y="1247.6">能够辨认或者部分辨认自己行为的，可以依本人、利害关系人的</tspan><tspan x="45" y="1252.9">申请，作出新判决，撤销原判决</tspan></text></g>
<g id="b74"><text><tspan x="42" y="1262">人民法院根据被认定为无民事行为能力或者限制民事行为能力人</tspan><tspan x="42" y="1267.3">或者他的监护人的申请，证实该公民无民事行为能力或者限制民事</tspan><tspan x="42" y="1272.6">行为能力</tspan><tspan x="42" y="1277.9">的原因已经消除的，应当作出新判决，撤销原判决</tspan></text></g>
<g id="b75"><text class="e" x="276" y="1295">条件</text></g>
<g id="b76"><text class="e" x="276" y="1337">审理程序</text></g>
<g id="b77"><text class="e" x="276" y="1400">财产所有人出现后的处理</text></g>
<g id="b78"><text class="e" x="261" y="1287">申请认定的财产必须是有形财产</text></g>
<g id="b79"><text class="e" x="261" y="1295">财产失去所有人或者所有人不明</text></g>
<g id="b80"><text class="e" x="261" y="1303">申请人提出书面申请</text></g>
<g id="b81"><text class="e" x="254" y="1316">管辖</text></g>
<g id="b82"><text class="e" x="254" y="1329">公告</text></g>
<g id="b83"><text class="e" x="254" y="1359">判决</text></g>
<g id="b84"><text><tspan x="189" y="1313.3">由财</tspan><tspan x="189" y="1318.6">产所在地基层人民法院管辖</tspan></text></g>
<g id="b85"><text><tspan x="167" y="1326.3">人民法院受理申请后，经审查核</tspan><tspan x="167" y="1331.6">实，应当发出财产认领公告，公告期间 1 年</tspan></text></g>
<g id="b86"><text><tspan x="145" y="1340.5">在公告期间内有人认领财产，人民法院应当裁定终结认定</tspan><tspan x="145" y="1345.8">财产无主案</tspan><tspan x="145" y="1351.1">件的审理程序，告知申请人另行起诉，适用普通程序审</tspan><tspan x="145" y="1356.4">理</tspan></text></g>
<g id="b87"><text><tspan x="153" y="1364">无人认领财</tspan><tspan x="153" y="1369.3">产，则判决认定该财产为无主财产，收归国家或者</tspan><tspan x="153" y="1374.6">集体所有</tspan></text></g>
<g id="b88"><text><tspan x="157" y="1383.7">原财产所有人或者继承人出现，在</tspan><tspan x="157" y="1389">诉讼时效期间内可以对</tspan><tspan x="157" y="1394.3">财产提出请求</tspan></text></g>
<g id="b89"><text><tspan x="145" y="1409.8">人民法院审查属实后，应当作出新判决，撤销原判</tspan><tspan x="145" y="1415.1">决</tspan></text></g>
<g id="b90"><text><tspan x="95" y="1402.3">原财产</tspan><tspan x="95" y="1407.6">尚存的，应当返还原财产</tspan></text></g>
<g id="b91"><text><tspan x="55" y="1417.1">原财产不存在的，可以返还同类财产或者按照原财</tspan><tspan x="55" y="1422.4">产的实际价值折价返还</tspan></text></g>
<g id="b92"><text class="e" x="276" y="1438">概念</text></g>
<g id="b93"><text class="e" x="276" y="1567">程序</text></g>
<g id="b94"><text><tspan x="171" y="1430.2">当事人经人民调解委员会调解达成的协议，依</tspan><tspan x="171" y="1435.5">法申请人民法院予以确认，经人民法院确认有效后即</tspan><tspan x="171" y="1440.8">赋予该调解协议具有强</tspan><tspan x="171" y="1446.1">制执行力的案件</tspan></text></g>
<g id="b95"><text class="e" x="261" y="1472">申请</text></g>
<g id="b96"><text class="e" x="261" y="1509">管辖</text></g>
<g id="b97"><text class="e" x="261" y="1567">审查</text></g>
<g id="b98"><text class="e" x="261" y="1633">审查与处理</text></g>
<g id="b99"><text class="e" x="261" y="1672">裁定效力</text></g>
<g id="b100"><text class="e" x="247" y="1455">由双方当事人共同提出申请</text></g>
<g id="b101"><text class="e" x="247" y="1463">依照《人民调解法》等法律提出申请</text></g>
<g id="b102"><text class="e" x="247" y="1472">在法定期间内提出申请</text></g>
<g id="b103"><text><tspan x="163" y="1481.3">当事人可以采用书面形式或者口头形式向人民法</tspan><tspan x="163" y="1486.6">院提出申请</tspan></text></g>
<g id="b104"><text class="e" x="247" y="1494">向调解组织所在地基层人民法院提出</text></g>
<g id="b105"><text><tspan x="162" y="1503.7">2 个以上调解组织参与调解的，各调解组织所在地</tspan><tspan x="162" y="1509">基层人民法院均有管</tspan><tspan x="162" y="1514.3">辖</tspan></text></g>
<g id="b106"><text><tspan x="145" y="1522.7">双方当事人共同向 2 个以上调解组织所在地基层人民法院</tspan><tspan x="145" y="1528">提出申请的，由最</tspan><tspan x="145" y="1533.3">先立案的人民法院管辖</tspan></text></g>
<g id="b107"><text><tspan x="77" y="1541.5">当事人申请司法确认调解协议，应</tspan><tspan x="77" y="1546.8">当向人民法院提交调解协议、调解组织主持调解的证明，以及与调解协议相</tspan><tspan x="77" y="1552.1">关的财产权利证明等材料，并提供双方当事人的身份、住所、联系方式等基</tspan><tspan x="77" y="1557.4">本信息</tspan></text></g>
<g id="b108"><text><tspan x="176" y="1583.3">有</tspan><tspan x="176" y="1588.6">下列情形之一的，人民法院裁定不予受理</tspan></text></g>
<g id="b109"><text class="e" x="169" y="1566">不属于人民法院受理范围的</text></g>
<g id="b110"><text class="e" x="169" y="1574">不属于收到申请的人民法院管辖的</text></g>
<g id="b111"><text><tspan x="32" y="1583.3">申请确认婚姻关系、亲子关系、收</tspan><tspan x="32" y="1588.6">养关系等身份关系无效、有效或者解除的</tspan></text></g>
<g id="b112"><text><tspan x="113" y="1597.8">涉及适用其他特别程序、公示催</tspan><tspan x="113" y="1603.1">告程序、破产程序审理的</tspan></text></g>
<g id="b113"><text><tspan x="17" y="1610.9">调解协议内容涉及物权、知识产权确权的、人民</tspan><tspan x="17" y="1616.2">法院受理申请后，发现有上述不予受理情形的，应当裁定驳回当事人的申请</tspan></text></g>
<g id="b114"><text class="e" x="233.5" y="1625">审查</text></g>
<g id="b115"><text class="e" x="233.5" y="1633.5">裁定驳回申请或者准许撤回的处理</text></g>
<g id="b116"><text class="e" x="233.5" y="1642">撤回申请</text></g>
<g id="b117"><text><tspan x="152" y="1650.3">经审查，</tspan><tspan x="152" y="1655.6">符合法律规定的，裁定调解协议有效，一方当事人</tspan><tspan x="152" y="1660.9">拒绝履行或者未全部履行</tspan><tspan x="152" y="1666.2">的，对方当事人可以向人民法院申请执行</tspan></text></g>
<g id="b118"><text><tspan x="153" y="1675.3">不符合法律规定的，裁定驳回申</tspan><tspan x="153" y="1680.6">请，当事人可以通过调解方式变更原调解协议或者</tspan><tspan x="153" y="1685.9">达成新的调解协议，也可</tspan><tspan x="153" y="1691.2">以向人民法院提起诉讼</tspan></text></g>
<g id="b119"><text class="e" x="276" y="1707">概念</text></g>
<g id="b120"><text class="e" x="276" y="1803">程序</text></g>
<g id="b121"><text><tspan x="165" y="1699">债务人不履行到期债务时，担保物权人申请人民法</tspan><tspan x="165" y="1704.3">院依法定程序，通过拍卖担保财产、变卖等方式，使</tspan><tspan x="165" y="1709.6">担保物权得以实现</tspan><tspan x="165" y="1714.9">的案件</tspan></text></g>
<g id="b122"><text class="e" x="261.5" y="1728">申请</text></g>
<g id="b123"><text class="e" x="261.5" y="1744">管辖</text></g>
<g id="b124"><text class="e r" x="261.5" y="1771">受理</text></g>
<g id="b125"><text class="e" x="261.5" y="1817">审查</text></g>
<g id="b126"><text class="e" x="261.5" y="1848">人民法院对保全申请的处理</text></g>
<g id="b127"><text class="e" x="261.5" y="1878">人民法院对申请实现担保物权案件的处理</text></g>
<g id="b128"><text class="e" x="247.5" y="1724">由法定主体提出申请</text></g>
<g id="b129"><text class="e" x="247.5" y="1733">依照《物权法》等法律规定提出申请</text></g>
<g id="b130"><text><tspan x="163" y="1741.3">应向担保财</tspan><tspan x="163" y="1746.6">产所在地或者担保物权登记地基层人民法院提出</tspan></text></g>
<g id="b131"><text class="r"><tspan x="162" y="1755">人民法院受理申请后，应当在 5 日</tspan><tspan x="162" y="1760.3">内向被申请人送达申请书副本、异议权利告知书</tspan><tspan x="162" y="1765.6">等文书</tspan></text></g>
<g id="b132"><text class="r"><tspan x="163" y="1774">被申请人有异议的，</tspan><tspan x="163" y="1779.3">应当在收到人民法院通知后的 5 日内向人民法院</tspan><tspan x="163" y="1784.6">提出，同时说明理由并提供</tspan><tspan x="163" y="1789.9">相应的证据材料</tspan></text></g>
<g id="b133"><text class="e" x="246" y="1804">审查组织</text></g>
<g id="b134"><text class="e" x="246" y="1829">审查内容</text></g>
<g id="b135"><text class="e" x="223.5" y="1798">可以由审判员一人独任审查</text></g>
<g id="b136"><text><tspan x="147" y="1807.4">担保财产标的额超过基层人民法院管辖范围</tspan><tspan x="147" y="1812.7">的，应当组成合议庭进行审查</tspan></text></g>
<g id="b137"><text><tspan x="16" y="1821">人民法院应当就主债权</tspan><tspan x="16" y="1826.3">的数额、期限、履行情况，担保物权是否有效设立、担保财产的范围、被</tspan><tspan x="16" y="1831.6">担保的债权范围、被担保的债权是否已届清偿期等担保物权实现的条件，以</tspan><tspan x="16" y="1836.9">及是否损害他人合法权益等内容进行审查</tspan></text></g>
<g id="b138"><text><tspan x="18" y="1845.3">人民法院受理申请后，申请人对担</tspan><tspan x="18" y="1850.6">保财产提出保全申请的，可以按照《民事诉讼法》关于诉讼保全的规定办理</tspan></text></g>
<g id="b139"><text><tspan x="35" y="1859.9">当事人对实现担保物权无实质性争议且</tspan><tspan x="35" y="1865.2">实现担保物权条件成就的，裁定准许拍卖、变卖担保财产</tspan></text></g>
<g id="b140"><text><tspan x="23" y="1873.2">当事人对实现</tspan><tspan x="23" y="1878.5">担保物权有部分实质性争议的，可以就无争议部分裁定准许拍卖、变卖担保</tspan><tspan x="23" y="1883.8">财产</tspan></text></g>
<g id="b141"><text><tspan x="25" y="1891.9">当事人对实现担保物权有实质性争议的，裁定驳回申请，并告知申</tspan><tspan x="25" y="1897.2">请人向人民法院提起诉讼</tspan></text></g>

<g id="c1"><text x="543" y="337">概念</text></g>
<g id="c2"><text><tspan x="559" y="334.4">人民法院审理第一审民事案件通常所适用的基础</tspan><tspan x="559" y="339.7">程序</tspan></text></g>
<g id="c3"><text x="543" y="353">特征</text></g>
<g id="c4"><text x="559" y="349">系统性</text></g>
<g id="c5"><text x="559" y="358">普遍性</text></g>
<g id="c6"><text x="543" y="452">撤诉</text></g>
<g id="c7"><text x="557" y="377">概念</text></g>
<g id="c8"><text><tspan x="575" y="374.4">当事人将已经成立之诉撤回，不再要求人民法院进行审理的诉</tspan><tspan x="575" y="379.7">讼行为</tspan></text></g>
<g id="c9"><text x="557" y="407">种类</text></g>
<g id="c10"><text><tspan x="575" y="390">当事人申请撤诉和人民法</tspan><tspan x="575" y="395.3">院按撤诉处理</tspan></text></g>
<g id="c11"><text><tspan x="575" y="403.7">原告撤回起诉、被告撤回反诉、</tspan><tspan x="575" y="409">有独立请求权的第三人撤回参加之诉</tspan></text></g>
<g id="c12"><text x="575" y="418">撤回起诉与撤回上诉</text></g>
<g id="c13"><text x="557" y="440">原告申请撤诉</text></g>
<g id="c14"><text x="588" y="426">书面或者口头提出撤诉申请</text></g>
<g id="c15"><text x="588" y="435">撤诉意思表示应当真实</text></g>
<g id="c16"><text x="588" y="444">撤诉的目的必须正当、合法</text></g>
<g id="c17"><text x="588" y="453">应当在人民法院宣告判决或者裁定之前提出</text></g>
<g id="c18"><text class="r" x="557" y="485">按撤诉处理</text></g>
<g id="c19"><text class="r"><tspan x="588" y="461">原告应当预交而未预交案件受理费，人民法院应当通知其预交，通知</tspan><tspan x="588" y="466.3">后仍不预交或者申请减、缓、免未获批准而仍不预交的</tspan></text></g>
<g id="c20"><text class="r"><tspan x="588" y="476">原告经传票传唤，无正当理由拒不到庭的，或者未经法庭许可中途退</tspan><tspan x="588" y="481.3">庭的，可以按撤诉处理</tspan></text></g>
<g id="c21"><text class="r"><tspan x="588" y="489">有独立请求权的第三人经传票传唤，无正当理由拒不到庭的，或者未</tspan><tspan x="588" y="494.3">经法庭许可中途退庭的</tspan></text></g>
<g id="c22"><text class="r"><tspan x="588" y="503">无民事行为能力的原告的法定代理人，经传票传唤，无正当理由拒不</tspan><tspan x="588" y="508.3">到庭的</tspan></text></g>
<g id="c23"><text x="557" y="526">法律后果</text></g>
<g id="c24"><text x="583" y="517">诉讼程序终结</text></g>
<g id="c25"><text x="583" y="526">视为原告未起诉</text></g>
<g id="c26"><text x="583" y="534">诉讼费用由原告负担，原告可以重新起诉</text></g>
<g id="c27"><text x="543" y="572">缺席判决</text></g>
<g id="c28"><text x="566" y="545">概念</text></g>
<g id="c29"><text><tspan x="582" y="542.4">人民法院仅在一方当事人参加庭审的情况下，并对另一方当事人提供的书面材</tspan><tspan x="582" y="547.7">料进行审查的基础上，对争议案件作出的判决</tspan></text></g>
<g id="c30"><text class="r" x="566" y="597">适用情形</text></g>
<g id="c31"><text class="r"><tspan x="590" y="557">原告经传票传唤，无正当理由拒不到庭或者未经法庭许可中途退庭</tspan><tspan x="590" y="562.3">的，被告反诉的</tspan></text></g>
<g id="c32"><text class="r"><tspan x="590" y="571">被告经传票传唤无正当理由拒不到庭或者未经法庭许可中途退庭</tspan><tspan x="590" y="576.3">的</tspan></text></g>
<g id="c33"><text class="r"><tspan x="590" y="584">无民事行为能力的被告的法定代理人，经传票传唤，无正当理由拒不到</tspan><tspan x="590" y="589.3">庭的</tspan></text></g>
<g id="c34"><text class="r"><tspan x="590" y="598">无独立请求权的第三人经传票传唤，无正当理由拒不到庭或者未经法庭许</tspan><tspan x="590" y="603.3">可中途退庭的</tspan></text></g>
<g id="c35"><text class="r"><tspan x="590" y="611">人民法院裁定不准撤诉的，原告经传票传唤，无正当理由拒不到庭</tspan><tspan x="590" y="616.3">的，</tspan><tspan x="590" y="621.6">可以缺席判决</tspan></text></g>
<g id="c36"><text class="r"><tspan x="590" y="631">在借贷纠纷中，债权人起诉时，债务人下落不明的，人民法院受理案件后</tspan><tspan x="590" y="636.3">传唤债务人应诉，经公告送达后仍不到庭的，可以缺席判决</tspan></text></g>
<g id="c37"><text x="570" y="673">延期审理</text></g>
<g id="c38"><text x="595" y="653">概念</text></g>
<g id="c39"><text><tspan x="610" y="645.5">人民法院确定了开庭审理期日后或者在开庭审理过</tspan><tspan x="610" y="650.8">程中，由于发生某种特殊情况，使开庭审理无法按期或者继续进行，从而</tspan><tspan x="610" y="656.1">将</tspan><tspan x="610" y="661.4">开庭审理推延到另一期日的诉讼制度</tspan></text></g>
<g id="c40"><text class="r" x="595" y="692">适用情形</text></g>
<g id="c41"><text class="r"><tspan x="617" y="670">必须到庭的当事人和其他诉讼参与人有正当理由</tspan><tspan x="617" y="675.3">没有到庭的</tspan></text></g>
<g id="c42"><text class="r" x="617" y="684">当事人临时提出回避申请的</text></g>
<g id="c43"><text class="r"><tspan x="617" y="691.7">需要通知新的证人到庭，调取新的证据，重新鉴定、勘验，或者</tspan><tspan x="617" y="697">需要</tspan><tspan x="617" y="702.3">补充调查的</tspan></text></g>
<g id="c44"><text class="r" x="617" y="711">其他应当延期的情形</text></g>
<g id="c45"><text x="570" y="720">诉讼中止</text><circle class="col" cx="590" cy="720" r="2"/><circle class="cd" cx="590" cy="720" r="0.7"/></g>
<g id="c46"><text x="570" y="762">诉讼终结</text></g>
<g id="c47"><text x="595" y="737">概念</text></g>
<g id="c48"><text><tspan x="609" y="729">在诉讼进行过程中，因发生某种法定的特殊原因，使诉</tspan><tspan x="609" y="734.3">讼程序无法继续进行或者继续进行已无必要时，由人民法院裁定终结诉讼</tspan><tspan x="609" y="739.6">程</tspan><tspan x="609" y="744.9">序的法律制度</tspan></text></g>
<g id="c49"><text x="595" y="758">与诉讼中止区别</text></g>
<g id="c50"><text x="628" y="753.3">引起的原因不同</text></g>
<g id="c51"><text x="628" y="762.3">引起的后果不同</text></g>
<g id="c52"><text class="r" x="595" y="787">适用情形</text></g>
<g id="c53"><text class="r" x="617" y="771">原告死亡，没有继承人，或者继承人放弃诉讼权利的</text></g>
<g id="c54"><text class="r" x="617" y="779">被告死亡，没有遗产，也没有应当承担义务的人的</text></g>
<g id="c55"><text class="r" x="617" y="788">离婚案件一方当事人死亡的</text></g>
<g id="c56"><text class="r"><tspan x="617" y="796.4">追索赡养费、扶养费、抚育费以及解除收养关系案件的一</tspan><tspan x="617" y="801.7">方当事人死</tspan><tspan x="617" y="807">亡的</tspan></text></g>

<g id="d1"><text x="536" y="826">概念</text></g>
<g id="d2"><text><tspan x="552" y="820.5">基层人民法院及其派出法庭审理简单的民事案件以及其他民事</tspan><tspan x="552" y="825.8">案件中的当事人基于程序选择权约定适用的简便易行的</tspan><tspan x="552" y="831.1">诉讼程序</tspan></text></g>
<g id="d3"><text class="r" x="536" y="853">适用范围</text></g>
<g id="d4"><text class="r" x="560" y="842">适用简易程序的人民法院</text></g>
<g id="d5"><text class="r"><tspan x="609" y="839.3">基层人</tspan><tspan x="609" y="844.6">民法院及其派出法庭</tspan></text></g>
<g id="d6"><text class="r" x="560" y="853">适用简易程序的审级</text></g>
<g id="d7"><text class="r" x="608" y="853">第一审民事案件</text></g>
<g id="d8"><text class="r" x="560" y="870">适用简易程序的案件</text></g>
<g id="d9"><text class="r"><tspan x="603" y="861.7">事实清楚、权利义务关系明</tspan><tspan x="603" y="867">确、争议不大的简单民事案件</tspan></text></g>
<g id="d10"><text class="r" x="603" y="876">当事人双方也可以约定适用简易程序</text></g>
<g id="d11"><text x="524" y="893">起诉与答辩</text></g>
<g id="d12"><text><tspan x="552" y="884">原告</tspan><tspan x="552" y="889.3">可以口头起诉</tspan></text></g>
<g id="d13"><text x="552" y="898">被告既可以口头答辩，也可以采取书面形式答辩</text></g>
<g id="d14"><text x="524" y="933">审理前准备</text></g>
<g id="d15"><text x="552" y="915">传唤</text></g>
<g id="d16"><text><tspan x="567" y="907">人民法院可以采取捎口信、电话、短信、传</tspan><tspan x="567" y="912.3">真、电子邮件等简便方式</tspan><tspan x="567" y="917.6">随时传唤双方当事人、证人和送达裁判文</tspan><tspan x="567" y="922.9">书以外的诉讼文书</tspan></text></g>
<g id="d17"><text x="552" y="952">送达</text></g>
<g id="d18"><text x="567" y="952">无法通知被告应诉的处理</text></g>
<g id="d19"><text><tspan x="615" y="930.7">原告提供了被告准确的送达地址，但人民法院无</tspan><tspan x="615" y="936">法向被告直接送达</tspan><tspan x="615" y="941.3">或者留置送达应诉通知书的，应当将案件转为普</tspan><tspan x="615" y="946.6">通程序审理</tspan></text></g>
<g id="d20"><text><tspan x="615" y="955.2">原告不能提供被告准确的送达地址，人民法院经</tspan><tspan x="615" y="960.5">查证后仍不能确</tspan><tspan x="615" y="965.8">定被告送达地址的，可以被告不明确为由裁定驳</tspan><tspan x="615" y="971.1">回原告起诉</tspan></text></g>
<g id="d21"><text x="524" y="979">开庭审理</text><circle class="col" cx="543.5" cy="979" r="2"/><circle class="cd" cx="543.5" cy="979" r="0.7"/></g>
<g id="d22"><text x="524" y="989">宣判</text></g>
<g id="d23"><text x="540" y="989">适用简易程序审理的民事案件，判决结案的，应当公开宣判</text></g>
<g id="d24"><text x="524" y="1021">裁判文书的制作</text></g>
<g id="d25"><text><tspan x="558" y="1018.3">在法定情</tspan><tspan x="558" y="1023.6">形之下，人民法院可以简化裁判文书的制作</tspan></text></g>
<g id="d26"><text x="668" y="998">当事人达成调解协议并需要制作民事调解书的</text></g>
<g id="d27"><text><tspan x="668" y="1006">一方当事人明确表示承</tspan><tspan x="668" y="1011.3">认对方全部诉讼请求或者部分诉讼请求的</tspan></text></g>
<g id="d28"><text><tspan x="668" y="1019.5">涉及个人隐私或者商业秘密的</tspan><tspan x="668" y="1024.8">案件，当事人一方要求简化裁判文书中的相关内容，人民法院认为理由</tspan><tspan x="668" y="1030.1">正当</tspan><tspan x="668" y="1035.4">的</tspan></text></g>
<g id="d29"><text x="668" y="1044">当事人双方同意简化裁判文书的</text></g>
<g id="d30"><text x="524" y="1053">审限</text></g>
<g id="d31"><text x="540" y="1053">立案之日起三个月内审结</text></g>
<g id="d32"><text x="532" y="1069">小额诉讼程序的理解</text></g>
<g id="d33"><text><tspan x="575" y="1061">简易程序中的一个更加简化的特殊程序，缩短了诉讼周期，提高了</tspan><tspan x="575" y="1066.3">诉讼效率，而且对方便利用司法</tspan><tspan x="575" y="1071.6">资源，及时解决当事人之间的纠纷，稳定社会秩序具有十分重要的作</tspan><tspan x="575" y="1076.9">用</tspan></text></g>
<g id="d34"><text x="532" y="1123">具体内容</text></g>
<g id="d35"><text x="556" y="1097">适用条件</text></g>
<g id="d36"><text x="579" y="1088">案件性质条件</text></g>
<g id="d37"><text><tspan x="610" y="1085.4">事实清楚、权利义务关系明</tspan><tspan x="610" y="1090.7">确、争议不大的简单民事案件</tspan></text></g>
<g id="d38"><text x="579" y="1105">案件标的额条件</text></g>
<g id="d39"><text><tspan x="614" y="1099.7">标的额为各省、自治区、直辖市上年度就业人员年平均</tspan><tspan x="614" y="1105">工资</tspan><tspan x="614" y="1110.3">50% 以下</tspan></text></g>
<g id="d40"><text x="556" y="1123">案件范围</text></g>
<g id="d41"><text x="578" y="1119">海事、海商小额诉讼案件</text></g>
<g id="d42"><text x="578" y="1128">简单的小额金钱给付案件</text></g>
<g id="d43"><text class="r" x="556" y="1154">不得适用小额诉讼程序的案件范围</text></g>
<g id="d44"><text class="r" x="621" y="1137">人身关系、财产确权纠纷</text></g>
<g id="d45"><text class="r" x="621" y="1145">涉外民事纠纷</text></g>
<g id="d46"><text class="r" x="621" y="1154">知识产权纠纷</text></g>
<g id="d47"><text class="r"><tspan x="621" y="1162">需要评估、鉴定或者对诉前评估、鉴定结果有</tspan><tspan x="621" y="1167.3">异议的纠纷</tspan></text></g>
<g id="d48"><text class="r"><tspan x="621" y="1176.3">其他不宜适</tspan><tspan x="621" y="1181.6">用一审终审的纠纷</tspan></text></g>
</svg>
